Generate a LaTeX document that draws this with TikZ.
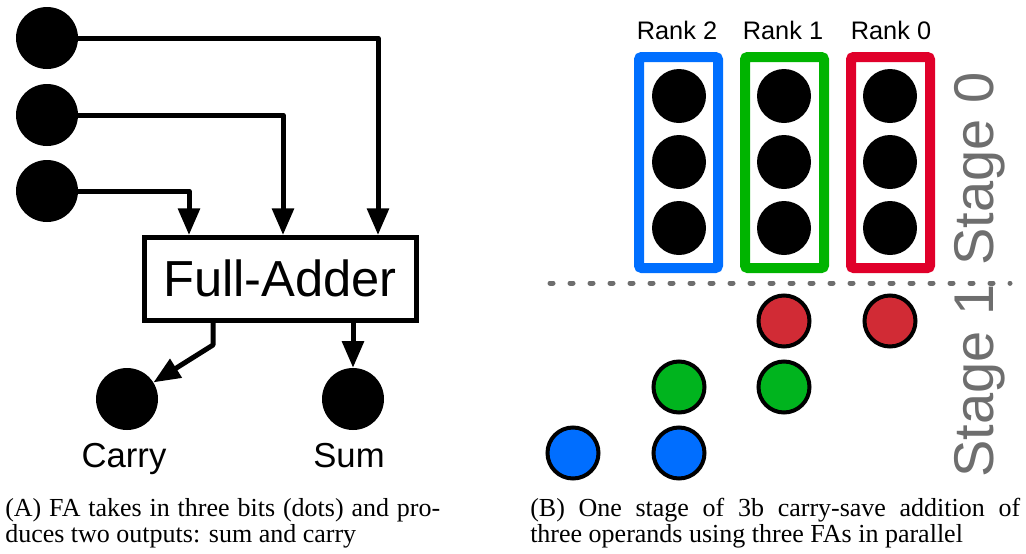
\documentclass[tikz,border=0pt]{standalone}
\usepackage{fontspec}
\setmainfont{Liberation Serif}
\newfontfamily\helv{Liberation Sans}
\usetikzlibrary{arrows.meta}
\definecolor{rkblue}{RGB}{0,111,255}
\definecolor{rkgreen}{RGB}{0,180,0}
\definecolor{rkred}{RGB}{224,0,42}
\definecolor{dotred}{RGB}{209,43,53}
\definecolor{dotgreen}{RGB}{0,180,30}
\definecolor{dotblue}{RGB}{0,110,255}
\definecolor{stagegray}{RGB}{110,110,110}
\tikzset{
  bit/.style={circle, fill=black, inner sep=0, minimum size=46.5pt},
  rbit/.style={circle, fill=black, inner sep=0, minimum size=40.5pt},
  obit/.style={circle, draw=black, line width=3pt, inner sep=0, minimum size=38.25pt},
  arr/.style={line width=3.75pt, line join=round, -{Triangle[width=16pt,length=20pt]}},
  rankbox/.style={draw, line width=7.5pt, rounded corners=2pt, inner sep=0, minimum width=59.25pt, minimum height=158.25pt},
  ranklbl/.style={font=\helv\fontsize{19}{21}\selectfont, anchor=base, inner sep=0},
  stagelbl/.style={font=\helv\fontsize{42}{44}\selectfont, text=stagegray, rotate=90, anchor=base, inner sep=0},
  captxt/.style={font=\fontsize{19.5}{21}\selectfont, anchor=base west, inner sep=0}
}
\begin{document}
\begin{tikzpicture}[x=0.75pt, y=-0.75pt]
\useasboundingbox (0,0) rectangle (1026,554);
% ---------- (A) ----------
\node[bit] (in1) at (47,38) {};
\node[bit] (in2) at (47,115) {};
\node[bit] (in3) at (47,191) {};
\node[draw, line width=3.75pt, inner sep=0, minimum width=204pt, minimum height=62.25pt,
      font=\helv\fontsize{38}{40}\selectfont] (fa) at (280,278.5) {Full-Adder};
\coordinate (t1) at (378,235);
\coordinate (t2) at (283,235);
\coordinate (t3) at (189,235);
\draw[arr] (in1) -| (t1);
\draw[arr] (in2) -| (t2);
\draw[arr] (in3) -| (t3);
\node[bit] (carry) at (127,399) {};
\node[bit] (sum) at (353,399) {};
\coordinate (cb) at (213,345);
\draw[arr] (cb |- fa.south) -- (cb) -- (carry);
\draw[arr] (sum |- fa.south) -- (sum);
\node[font=\helv\fontsize{26}{28}\selectfont, anchor=base, inner sep=0] (carrylbl) at (124,467) {Carry};
\node[font=\helv\fontsize{26}{28}\selectfont, anchor=base, inner sep=0] (sumlbl) at (349,467) {Sum};
% ---------- (B) ----------
\node[ranklbl] (l2) at (677,39) {Rank 2};
\node[ranklbl] (l1) at (783,39) {Rank 1};
\node[ranklbl] (l0) at (891,39) {Rank 0};
\node[rankbox, draw=rkblue] (b2) at (678.5,162.5) {};
\node[rankbox, draw=rkgreen] (b1) at (784.5,162.5) {};
\node[rankbox, draw=rkred] (b0) at (890.5,162.5) {};
\foreach \x/\n in {679/2,784/1,890/0}{
  \node[rbit] (r\n a) at (\x,96) {};
  \node[rbit] (r\n b) at (\x,162) {};
  \node[rbit] (r\n c) at (\x,228) {};
}
\coordinate (dl) at (550,283);
\coordinate (dr) at (1010,283);
\draw[stagegray, line width=3.75pt, line cap=round, dash pattern=on 2.25pt off 12.75pt] (dl) -- (dr);
\node[stagelbl] (s0) at (993,169) {Stage 0};
\node[stagelbl] (s1) at (993,381) {Stage 1};
\node[obit, fill=dotred] (o1) at (784,321) {};
\node[obit, fill=dotred] (o0) at (890,321) {};
\node[obit, fill=dotgreen] (o3) at (679,387) {};
\node[obit, fill=dotgreen] (o2) at (784,387) {};
\node[obit, fill=dotblue] (o5) at (573,453) {};
\node[obit, fill=dotblue] (o4) at (679,453) {};
% ---------- captions ----------
\node[captxt] (ca1) at (5,516) {\makebox[326.25pt][s]{(A) FA takes in three bits (dots) and pro-}};
\node[captxt] (ca2) at (5,542) {duces two outputs: sum and carry};
\node[captxt] (cb1) at (530,516) {\makebox[367.5pt][s]{(B) One stage of 3b carry-save addition of}};
\node[captxt] (cb2) at (530,542) {three operands using three FAs in parallel};
\end{tikzpicture}
\end{document}
